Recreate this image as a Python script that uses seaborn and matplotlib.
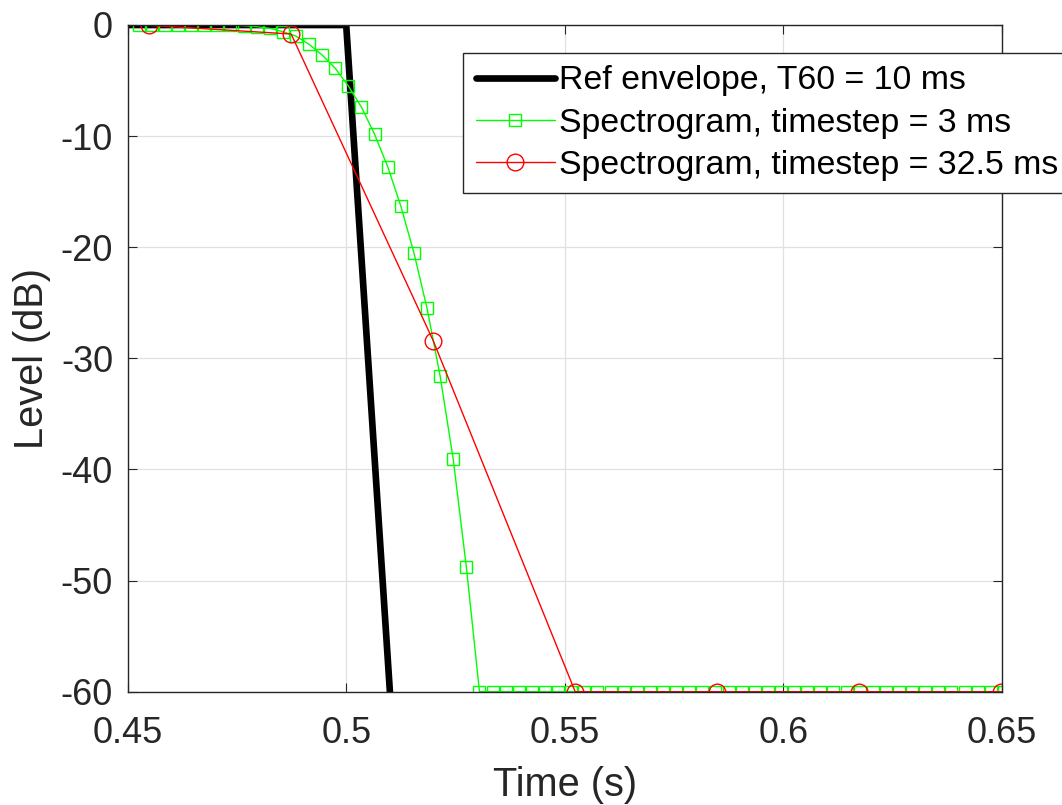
import numpy as np
import pandas as pd
import matplotlib
matplotlib.use("Agg")
import matplotlib.pyplot as plt
import seaborn as sns

# ---- data ----
ref_time = [0.45, 0.50, 0.51]
ref_level = [0.0, 0.0, -60.0]

green_time = [0.4495 + 0.003 * k for k in range(69)]
green_level = ([0.0] * 9 +
               [-0.06, -0.15, -0.3, -0.6, -1.0, -1.74, -2.7, -3.9, -5.5,
                -7.4, -9.84, -12.75, -16.3, -20.5, -25.5, -31.6, -39.1, -48.8])
green_level = green_level + [-60.0] * (len(green_time) - len(green_level))

red_time = [0.4224, 0.4549, 0.4874, 0.5199, 0.5524, 0.5849, 0.6174, 0.6499]
red_level = [0.0, -0.03, -0.81, -28.4, -60.0, -60.0, -60.0, -60.0]

labels = ["Ref envelope, T60 = 10 ms",
          "Spectrogram, timestep = 3 ms",
          "Spectrogram, timestep = 32.5 ms"]
xticks = [0.45, 0.5, 0.55, 0.6, 0.65]
xticklabels = ["0.45", "0.5", "0.55", "0.6", "0.65"]
yticks = [-60, -50, -40, -30, -20, -10, 0]

sns.set_style("white")
plt.rcParams['font.family'] = ['Liberation Sans', 'DejaVu Sans']

fig = plt.figure(figsize=(10.62, 8.05), dpi=100)
ax = fig.add_axes([127.7 / 1062, 1 - 691.7 / 805, 874 / 1062, 666.7 / 805])

sns.lineplot(x=ref_time, y=ref_level, ax=ax, color="black", linewidth=4.8,
             label=labels[0], solid_joinstyle="miter", estimator=None, sort=False)
sns.lineplot(x=green_time, y=green_level, ax=ax, color="#00ff00", linewidth=1.0,
             marker="s", markersize=8.4, markerfacecolor="none",
             markeredgecolor="#00ff00", markeredgewidth=1.0,
             markevery=slice(1, len(green_time) - 1),
             label=labels[1], estimator=None, sort=False)
sns.lineplot(x=red_time, y=red_level, ax=ax, color="#ff0000", linewidth=1.0,
             marker="o", markersize=12, markerfacecolor="none",
             markeredgecolor="#ff0000", markeredgewidth=1.0,
             markevery=slice(1, None),
             label=labels[2], estimator=None, sort=False)

ax.set_xlim(0.45, 0.65)
ax.set_ylim(-60, 0)
ax.set_xticks(xticks)
ax.set_xticklabels(xticklabels)
ax.set_yticks(yticks)
ax.set_yticklabels([str(v) for v in yticks])

ax.grid(True, color="#e0e0e0", linewidth=0.9)
ax.set_axisbelow(True)
for s in ax.spines.values():
    s.set_color("#262626")
    s.set_linewidth(1.0)
    s.set_visible(True)

ax.tick_params(axis="both", which="both", direction="in", length=6.5,
               width=0.8, color="#262626", labelsize=26, labelcolor="#262626",
               top=True, right=True, bottom=True, left=True)
ax.tick_params(axis="y", pad=10.5)
ax.tick_params(axis="x", pad=17.5)

ax.set_xlabel("Time (s)", fontsize=28.6, color="#262626", labelpad=11)
ax.set_ylabel("Level (dB)", fontsize=28.6, color="#262626", labelpad=7)

leg = ax.legend(loc="upper left",
                bbox_to_anchor=(463.3 / 1062, 1 - 53.3 / 805),
                bbox_transform=fig.transFigure, borderaxespad=0,
                fontsize=24.4, frameon=True, fancybox=False, framealpha=1,
                edgecolor="#262626", borderpad=0.36, labelspacing=0.33,
                handlelength=2.35, handletextpad=0.12, labelcolor="black")
leg.get_frame().set_linewidth(1.0)
for line in ax.lines:
    line.set_clip_on(True)

fig.savefig("out.png", dpi=100)
